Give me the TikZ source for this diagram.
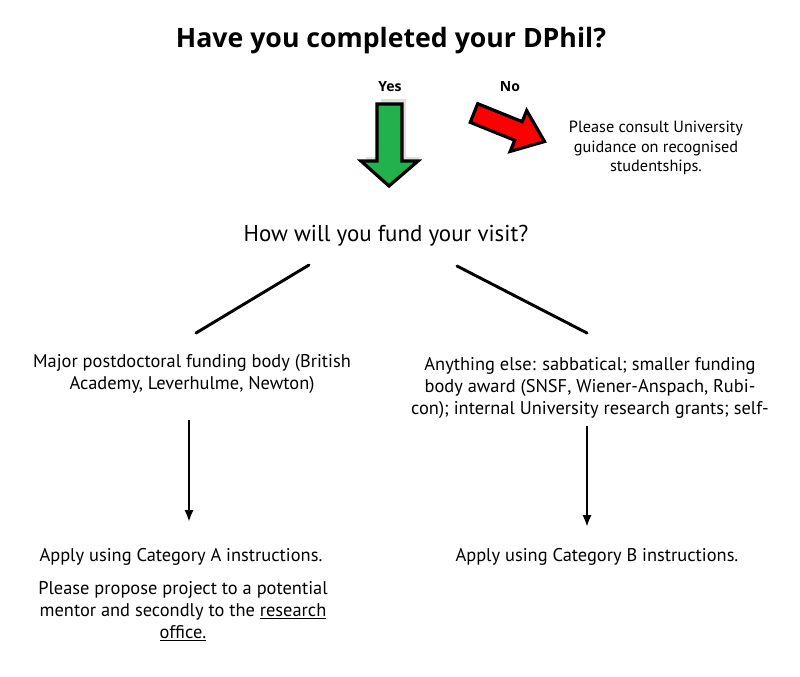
\documentclass[tikz,border=0pt]{standalone}
\usepackage{fontspec}
\setmainfont{PT Sans}
\newfontfamily\titlefont{Open Sans}
\usetikzlibrary{arrows.meta}
\newcommand{\myul}[1]{\underline{#1}}
\definecolor{arrowgreen}{RGB}{34,177,76}
\begin{document}
\begin{tikzpicture}[x=0.75pt,y=-0.75pt,
  body/.style={align=center,font=\fontsize{13.8}{16.5}\selectfont,inner sep=0pt},
  conn/.style={line width=2.2pt,line cap=round},
  varrow/.style={line width=2pt,-{Latex[length=9pt,width=7pt]}},
  bigarrow/.style={line width=2.4pt,line join=miter}
]
\useasboundingbox (0,0) rectangle (800,676);
\fill[white] (0,0) rectangle (800,676);

\node[font=\titlefont\bfseries\fontsize{20}{22}\selectfont,inner sep=0pt] (title) at (391,41) {Have you completed your DPhil?};

\node[font=\titlefont\bfseries\fontsize{10.5}{12}\selectfont,inner sep=0pt] (yes) at (390,87) {Yes};
\node[font=\titlefont\bfseries\fontsize{10.5}{12}\selectfont,inner sep=0pt] (no) at (510,87) {No};

% green arrow shadow
\fill[black!12] (381,99) -- (406,99) -- (406,157) -- (421,157) -- (393,182) -- (365,157) -- (381,157) -- cycle;
% green arrow
\filldraw[draw=black,bigarrow,fill=arrowgreen] (377,104) -- (402,104) -- (402,161) -- (418,161) -- (389,186) -- (361,161) -- (377,161) -- cycle;

% red arrow
\filldraw[fill=red,draw=black,bigarrow] (477.7,103.7) -- (522.2,121.7) -- (526.7,110.6) -- (544.5,141.5) -- (510.2,151.4) -- (514.7,140.3) -- (470.3,122.3) -- cycle;

\node[body,font=\fontsize{12.2}{14.6}\selectfont] (consult) at (656,148) {Please consult University\\guidance on recognised\\studentships.};

\node[body,font=\fontsize{17.2}{18}\selectfont] (fund) at (386,236) {How will you fund your visit?};

\coordinate (l1) at (309,265);
\coordinate (l2) at (196,333);
\coordinate (r1) at (457,266);
\coordinate (r2) at (587,333);
\draw[conn] (l1) -- (l2);
\draw[conn] (r1) -- (r2);

\node[body] (major) at (192,374) {Major postdoctoral funding body (British\\Academy, Leverhulme, Newton)};
\node[body] (other) at (590,388) {Anything else: sabbatical; smaller funding\\body award (SNSF, Wiener-Anspach, Rubi-\\con); internal University research grants; self-};

\coordinate (a1) at (189,420);
\coordinate (a2) at (189,522);
\coordinate (b1) at (587,426);
\coordinate (b2) at (587,527);
\draw[varrow] (a1) -- (a2);
\draw[varrow] (b1) -- (b2);

\node[body] (catA) at (181,557) {Apply using Category A instructions.};
\node[body] (propose) at (183,611) {Please propose project to a potential\\mentor and secondly to the \myul{research}\\\myul{office.}};
\node[body] (catB) at (597,557) {Apply using Category B instructions.};
\end{tikzpicture}
\end{document}
